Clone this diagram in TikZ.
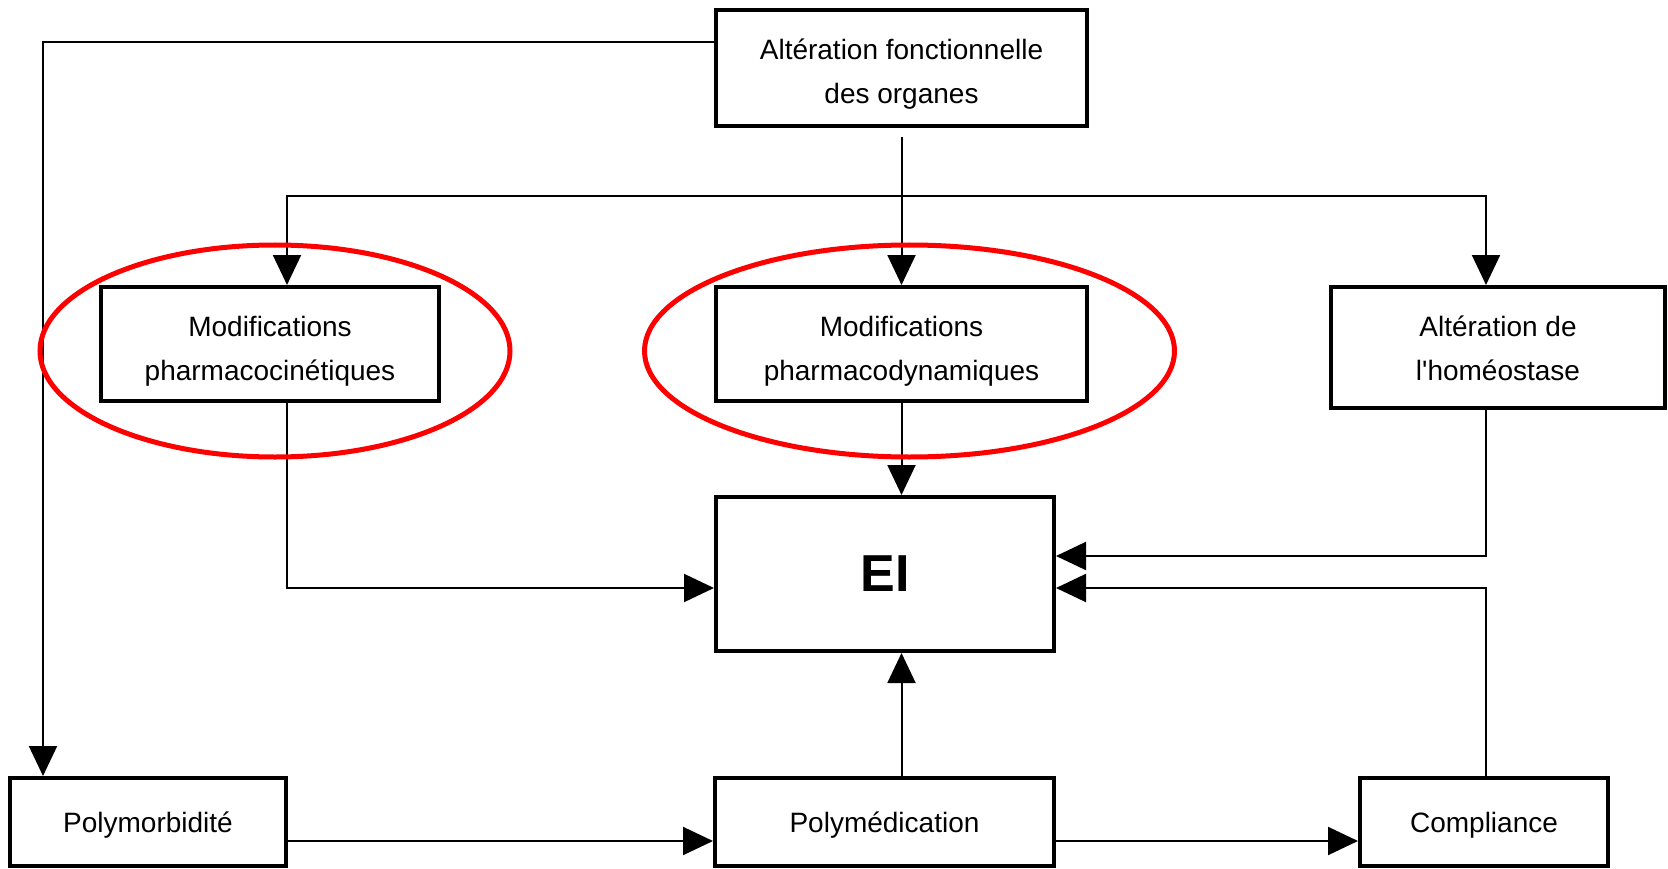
\documentclass[tikz,border=0pt]{standalone}
\usepackage{fontspec}
\setmainfont{Liberation Sans}
\usetikzlibrary{arrows.meta,calc}
\begin{document}
\begin{tikzpicture}[x=1pt,y=-1pt,
  box/.style={draw, line width=4pt, inner sep=0pt},
  txt/.style={align=center, inner sep=0pt, font=\fontsize{28}{44}\selectfont},
  conn/.style={line width=2pt},
  arr/.style={-{Triangle[length=30pt,width=28pt]}},
  darr/.style={{Triangle[length=30pt,width=28pt]}-{Triangle[length=30pt,width=28pt]}},
  ring/.style={draw=red, line width=5pt}]
\useasboundingbox (0,0) rectangle (1668,869);
\fill[white] (0,0) rectangle (1668,869);

% boxes
\node[box, minimum width=371pt, minimum height=116pt,
  label={[txt,yshift=-6pt]center:Altération fonctionnelle\\des organes}] (top) at (901.5,68) {};
\node[box, minimum width=338pt, minimum height=114pt,
  label={[txt,yshift=-7pt]center:Modifications\\pharmacocinétiques}] (pk) at (270,344) {};
\node[box, minimum width=371pt, minimum height=114pt,
  label={[txt,yshift=-7pt]center:Modifications\\pharmacodynamiques}] (pd) at (901.5,344) {};
\node[box, minimum width=334pt, minimum height=121pt,
  label={[txt,yshift=-1pt]center:Altération de\\l\textquotesingle homéostase}] (ho) at (1498,347.5) {};
\node[box, minimum width=338pt, minimum height=154pt, font=\fontsize{52}{60}\selectfont\bfseries] (ei) at (885,574) {EI};
\node[box, minimum width=276pt, minimum height=88pt,
  label={[txt,yshift=-3pt]center:Polymorbidité}] (pb) at (148,822) {};
\node[box, minimum width=339pt, minimum height=88pt,
  label={[txt,yshift=-3pt]center:Polymédication}] (pm) at (884.5,822) {};
\node[box, minimum width=248pt, minimum height=88pt,
  label={[txt,yshift=-3pt]center:Compliance}] (co) at (1484,822) {};

% corner coordinates
\coordinate (k1) at (43,42);
\coordinate (k2) at (287,196);
\coordinate (k3) at (1486,196);
\coordinate (k4) at (287,588);
\coordinate (k5) at (1486,556);
\coordinate (k6) at (1486,588);
\coordinate (k8) at (0,841);

% connectors
\draw[conn,arr] (top.west |- k1) -- (k1) -- (k1 |- pb.north);
\draw[conn,arr] ([yshift=-9pt]top.south) -- (pd.north);
\draw[conn,darr] (k2 |- pk.north) -- (k2) -- (k3) -- (k3 |- ho.north);
\draw[conn,arr] (k4 |- pk.south) -- (k4) -- (k4 -| ei.west);
\draw[conn,arr] (pd.south) -- (pd.south |- ei.north);
\draw[conn,arr] (k5 |- ho.south) -- (k5) -- (k5 -| ei.east);
\draw[conn,arr] (k6 |- co.north) -- (k6) -- (k6 -| ei.east);
\draw[conn,arr] (pd.south |- pm.north) -- (pd.south |- ei.south);
\draw[conn,arr] (pb.east |- k8) -- (pm.west |- k8);
\draw[conn,arr] (pm.east |- k8) -- (co.west |- k8);

% red ellipses
\draw[ring] (275,351) ellipse [x radius=235pt, y radius=106pt];
\draw[ring] (909.5,351) ellipse [x radius=265pt, y radius=106pt];
\end{tikzpicture}
\end{document}
